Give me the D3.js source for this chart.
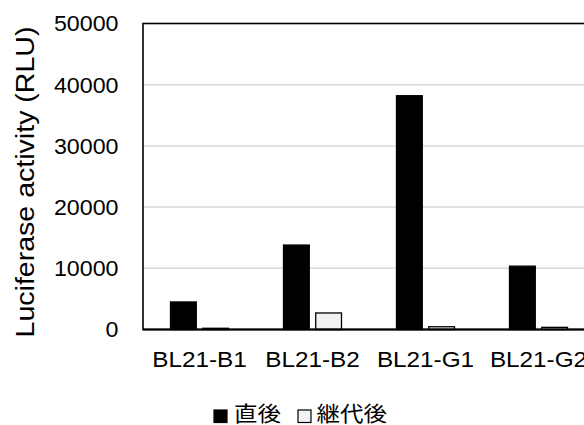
<!DOCTYPE html>
<html>
<head>
<meta charset="utf-8">
<script src="https://cdn.jsdelivr.net/npm/d3@7"></script>
<style>
  html, body { margin: 0; padding: 0; background: #fff; }
  svg { display: block; }
  text { font-family: "Liberation Sans", Arial, sans-serif; fill: #000; }
  .legend text { font-family: "Noto Sans CJK JP", "Noto Sans CJK SC", sans-serif; }
</style>
</head>
<body>
<svg id="chart" width="584" height="425"></svg>
<script>
// Luciferase activity per strain, right after transformation vs. after passaging
const categories = ["BL21-B1", "BL21-B2", "BL21-G1", "BL21-G2"];
const seriesNames = ["直後", "継代後"];
const immediateValues = [4500, 13800, 38200, 10350];
const passagedValues = [200, 2700, 450, 350];
const yTicks = [0, 10000, 20000, 30000, 40000, 50000];
const yTitle = "Luciferase activity (RLU)";

const seriesFill = ["#000000", "#f2f2f2"];

const svg = d3.select("#chart");
const plot = { left: 143, top: 23.5, right: 595, bottom: 329.5 };

const y = d3.scaleLinear().domain([0, 50000]).range([plot.bottom, plot.top]);
const x0 = d3.scaleBand().domain(categories).range([plot.left, plot.right]);
const inset = 27.5;
const x1 = d3.scaleBand().domain(seriesNames)
  .range([inset, x0.bandwidth() - inset]).paddingInner(0.2).paddingOuter(0);

// horizontal gridlines
svg.append("g").selectAll("line")
  .data(yTicks.filter(t => t > 0 && t < 50000))
  .join("line")
  .attr("x1", plot.left).attr("x2", plot.right)
  .attr("y1", d => y(d)).attr("y2", d => y(d))
  .attr("stroke", "#d9d9d9").attr("stroke-width", 1.5);

// bars
const rows = categories.map((c, i) => ({ cat: c, vals: [immediateValues[i], passagedValues[i]] }));
const groups = svg.append("g").selectAll("g")
  .data(rows).join("g")
  .attr("transform", d => `translate(${x0(d.cat)},0)`);
groups.selectAll("rect")
  .data(d => d.vals.map((v, k) => ({ key: seriesNames[k], v, k })))
  .join("rect")
  .attr("x", d => x1(d.key))
  .attr("width", x1.bandwidth())
  .attr("y", d => y(d.v))
  .attr("height", d => y(0) - y(d.v))
  .attr("fill", d => seriesFill[d.k])
  .attr("stroke", "#000").attr("stroke-width", 1.3);

// plot frame
svg.append("rect")
  .attr("x", plot.left).attr("y", plot.top)
  .attr("width", plot.right - plot.left).attr("height", plot.bottom - plot.top)
  .attr("fill", "none").attr("stroke", "#000").attr("stroke-width", 1.6);
svg.append("line")
  .attr("x1", plot.left).attr("x2", plot.right)
  .attr("y1", plot.bottom).attr("y2", plot.bottom)
  .attr("stroke", "#000").attr("stroke-width", 2);

// y axis labels
const yAxis = svg.append("g")
  .attr("transform", `translate(${plot.left},0)`)
  .call(d3.axisLeft(y).tickValues(yTicks).tickSize(0).tickPadding(25).tickFormat(d3.format("d")));
yAxis.select(".domain").remove();
yAxis.selectAll("text")
  .attr("font-family", "Liberation Sans, Arial, sans-serif")
  .attr("font-size", 21.5).attr("fill", "#000")
  .attr("x", null).attr("dy", null)
  .attr("transform", "translate(-24.5,7.3) scale(1.08,1)");

// x axis labels
const xAxis = svg.append("g")
  .attr("transform", `translate(0,${plot.bottom})`)
  .call(d3.axisBottom(x0).tickSize(0));
xAxis.select(".domain").remove();
xAxis.selectAll("text")
  .attr("font-family", "Liberation Sans, Arial, sans-serif")
  .attr("font-size", 21.5).attr("fill", "#000")
  .attr("y", null).attr("dy", null)
  .attr("transform", "translate(0,37.8) scale(1.13,1)");

// y axis title
svg.append("text")
  .attr("transform", "translate(33.5,182) rotate(-90) scale(1.12,1)")
  .attr("text-anchor", "middle")
  .attr("font-size", 25.5)
  .text(yTitle);

// legend
const legend = svg.append("g").attr("class", "legend");
const legendItems = [
  { name: seriesNames[0], fill: seriesFill[0], keyX: 214, textX: 234 },
  { name: seriesNames[1], fill: seriesFill[1], keyX: 298, textX: 316.5 }
];
legendItems.forEach(item => {
  legend.append("rect")
    .attr("x", item.keyX).attr("y", 410)
    .attr("width", 13).attr("height", 12.5)
    .attr("fill", item.fill).attr("stroke", "#000").attr("stroke-width", 1.2);
  legend.append("text")
    .attr("transform", `translate(${item.textX},420.5) scale(1.12,1)`)
    .attr("font-size", 21)
    .text(item.name);
});
</script>
</body>
</html>
